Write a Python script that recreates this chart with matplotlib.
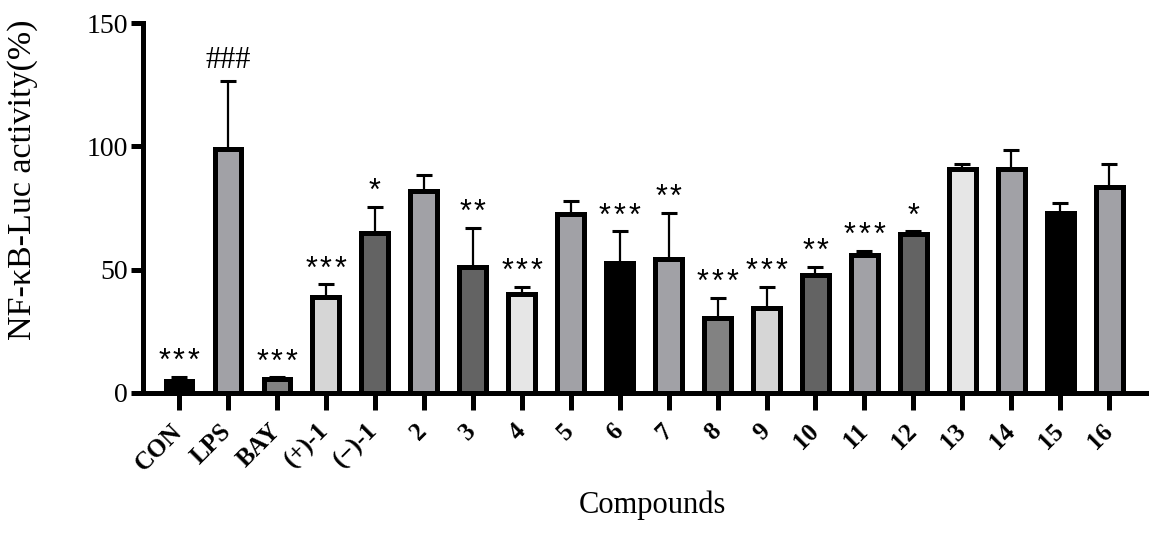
import numpy as np
import matplotlib
matplotlib.use('Agg')
import matplotlib.pyplot as plt

# --- data ---
compounds = ["CON", "LPS", "BAY", "(+)-1", "(\u2212)-1", "2", "3", "4", "5", "6",
             "7", "8", "9", "10", "11", "12", "13", "14", "15", "16"]
means = [5, 99, 5.5, 39, 65, 82, 51, 40, 72.5, 52.5,
         54.5, 30.5, 34.5, 48, 56, 64.5, 91, 91, 73, 83.5]
err_up = [1.5, 27.5, 0.8, 5, 10.5, 6.5, 16, 3, 5.5, 13,
          18.5, 8, 8.5, 3, 1.5, 1, 2, 7.5, 4, 9.5]
sig = ["***", "###", "***", "***", "*", "", "**", "***", "", "***",
       "**", "***", "***", "**", "***", "*", "", "", "", ""]
fills = ["#000000", "#a1a1a6", "#828282", "#d6d6d6", "#636363", "#a1a1a6", "#636363",
         "#e6e6e6", "#a1a1a6", "#000000", "#a1a1a6", "#828282", "#d6d6d6", "#636363",
         "#a1a1a6", "#636363", "#e6e6e6", "#a1a1a6", "#000000", "#a1a1a6"]

serif = ["Liberation Serif", "DejaVu Serif"]
sans = ["Liberation Sans", "DejaVu Sans"]
plt.rcParams['font.family'] = serif

fig = plt.figure(figsize=(11.6, 5.33), dpi=100)
ax = fig.add_axes([0.1233, 0.2627, 0.988 - 0.1233, 0.9568 - 0.2627])

x = np.arange(len(compounds))
ax.errorbar(x, means, yerr=[np.zeros(len(x)), err_up], fmt='none', ecolor='black',
            elinewidth=1.6, capsize=6, capthick=2.2, zorder=1)
ax.bar(x, means, width=0.54, color=fills, edgecolor='black', linewidth=3.6, zorder=2)

# significance marks above the error bars
pitch = 10.5  # points between stars
for xi, m, e, s in zip(x, means, err_up, sig):
    if not s:
        continue
    if s.startswith("#"):
        ax.annotate(s, (xi, m + e), xytext=(0, 4), textcoords='offset points',
                    ha='center', va='bottom', fontsize=22, family=serif)
    else:
        n = len(s)
        for k in range(n):
            dx = (k - (n - 1) / 2) * pitch
            ax.annotate("*", (xi, m + e), xytext=(dx, 0), textcoords='offset points',
                        ha='center', va='bottom', fontsize=22, family=sans)

ax.set_xlim(-0.73, 19.75)
ax.set_ylim(0, 150)
ax.set_yticks([0, 50, 100, 150])
ax.set_xticks(x)
ax.set_xticklabels(compounds, rotation=45, ha='right', va='center',
                   rotation_mode='anchor', fontsize=18, fontweight='bold')
ax.tick_params(axis='y', labelsize=20, width=3.6, length=9, pad=2)
ax.tick_params(axis='x', width=3.6, length=12, pad=13)

for sp in ['top', 'right']:
    ax.spines[sp].set_visible(False)
for sp in ['left', 'bottom']:
    ax.spines[sp].set_linewidth(3.6)

ax.set_ylabel("NF-\u03baB-Luc activity(%)", fontsize=24.5, va='center')
ax.yaxis.set_label_coords(-0.1205, 0.576)
ax.set_xlabel("Compounds", fontsize=22, va='center')
ax.xaxis.set_label_coords(0.5077, -0.3027)

fig.savefig("out.png", dpi=100, facecolor='white')
